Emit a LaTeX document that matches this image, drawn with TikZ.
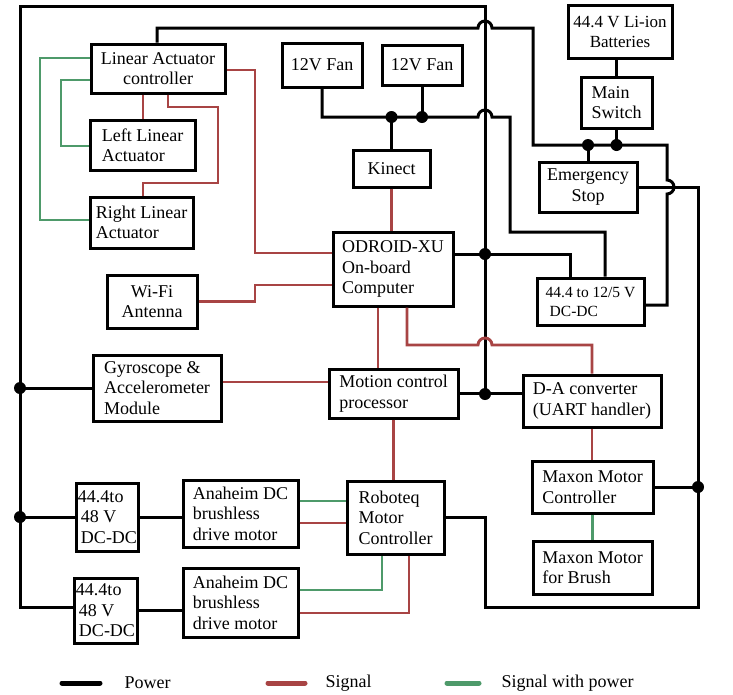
\documentclass[tikz,border=0pt]{standalone}
\usepackage{fontspec}
\setmainfont{Liberation Serif}
\usetikzlibrary{positioning}
\definecolor{sigred}{RGB}{168,68,68}
\definecolor{siggreen}{RGB}{78,154,106}
\newcommand\blkfont{\fontsize{18}{20.5}\selectfont}

\begin{document}
\begin{tikzpicture}[x=1pt,y=-1pt,
  blk/.style={draw, line width=3pt, fill=white, align=left, inner sep=3pt, font=\blkfont},
  pwr/.style={line width=3pt, black},
  sig/.style={line width=2.9pt, sigred},
  sgp/.style={line width=2.9pt, siggreen}]
\fill[white] (0,0) rectangle (733,694);
\useasboundingbox (0,0) rectangle (733,694);

% left column
\node[blk, minimum width=134, minimum height=49, align=center] (lac) at (158,68.5) {Linear Actuator\\controller};
\node[blk, minimum width=105, minimum height=50] (leftla) at (142.5,145) {Left Linear\\Actuator};
\node[blk, minimum width=103, minimum height=51] (rightla) at (141.5,222.5) {Right Linear\\Actuator};
\node[blk, minimum width=90, minimum height=53, align=center] (wifi) at (152,301.5) {Wi-Fi\\Antenna};
\node[blk, minimum width=128, minimum height=66] (gyro) at (157,388) {Gyroscope \&\\Accelerometer\\Module};
\node[blk, minimum width=61, minimum height=68, inner sep=1pt] (dcA) at (107.5,517) {44.4to\\\,48 V\\\,DC-DC};
\node[blk, minimum width=63, minimum height=65, inner sep=1pt] (dcB) at (105.5,610.5) {44.4to\\\,48 V\\\,DC-DC};
\node[blk, minimum width=115, minimum height=67] (anaA) at (240.5,513.5) {Anaheim DC\\brushless\\drive motor};
\node[blk, minimum width=115, minimum height=69] (anaB) at (240.5,602.5) {Anaheim DC\\brushless\\drive motor};

% middle column
\node[blk, minimum width=80, minimum height=44] (fanA) at (322,65) {12V Fan};
\node[blk, minimum width=80, minimum height=40] (fanB) at (422,65) {12V Fan};
\node[blk, minimum width=77, minimum height=37] (kinect) at (391.5,168.5) {Kinect};
\node[blk, minimum width=120, minimum height=74] (odroid) at (393,269) {ODROID-XU\\On-board\\Computer};
\node[blk, minimum width=129, minimum height=49] (motion) at (393.5,393.5) {Motion control\\processor};
\node[blk, minimum width=97, minimum height=73] (roboteq) at (395.5,517.5) {Roboteq\\Motor\\Controller};

% right column
\node[blk, minimum width=104, minimum height=53, align=center, font=\fontsize{17}{20}\selectfont] (batt) at (620,31.5) {44.4 V Li-ion\\Batteries};
\node[blk, minimum width=71, minimum height=51] (mswitch) at (616.5,102.5) {Main\\Switch};
\node[blk, minimum width=98, minimum height=50, align=center] (estop) at (588,187) {Emergency\\Stop};
\node[blk, minimum width=107, minimum height=47, font=\fontsize{15.5}{19}\selectfont] (dcdc) at (590.5,301.5) {44.4 to 12/5 V\\\hspace{4pt}DC-DC};
\node[blk, minimum width=138, minimum height=52] (dac) at (592,401) {D-A converter\\(UART handler)};
\node[blk, minimum width=121, minimum height=52] (maxonc) at (592.5,487) {Maxon Motor\\Controller};
\node[blk, minimum width=119, minimum height=53] (maxonb) at (592.5,567.5) {Maxon Motor\\for Brush};

% power
\draw[pwr] (485,394) -- (485,6) -- (20,6) -- (20,607) -- (dcB.west |- 0,607);
\draw[pwr] (gyro.west) -- (gyro.west -| 20,0);
\draw[pwr] (dcA.west) -- (dcA.west -| 20,0);
\draw[pwr] (dcA.east) -- (anaA.west |- dcA.east);
\draw[pwr] (dcB.east) -- (anaB.west |- dcB.east);
\draw[pwr] (motion.east) -- (dac.west |- motion.east);
\draw[pwr] (odroid.east |- 0,254) -- (570,254) -- (dcdc.north -| 570,0);
\draw[pwr] (lac.north -| 157,0) -- (157,28) -- (478,28) arc[start angle=180, end angle=0, radius=7pt]
  -- (533,28) -- (533,145) -- (667,145) -- (667,180) arc[start angle=90, end angle=-90, radius=7pt]
  -- (667,305) -- (dcdc.east |- 0,305);
\draw[pwr] (fanA.south) -- (fanA.south |- 0,117) -- (478,117) arc[start angle=180, end angle=0, radius=7pt]
  -- (510,117) -- (510,232) -- (605,232) -- (dcdc.north -| 605,0);
\draw[pwr] (fanB.south) -- (fanB.south |- 0,117);
\draw[pwr] (kinect.north) -- (kinect.north |- 0,117);
\draw[pwr] (estop.north) -- (estop.north |- 0,145);
\draw[pwr] (mswitch.south) -- (mswitch.south |- 0,145);
\draw[pwr] (mswitch.north) -- (mswitch.north |- batt.south);
\draw[pwr] (estop.east) -- (estop.east -| 698,0) -- (698,607) -- (485,607) -- (485,517) -- (roboteq.east |- 0,517);
\draw[pwr] (maxonc.east) -- (maxonc.east -| 698,0);

% signal
\draw[sig] (lac.east |- 0,70) -- (255,70) -- (255,253) -- (odroid.west |- 0,253);
\draw[sig] (wifi.east) -- (wifi.east -| 255,0) -- (255,285) -- (odroid.west |- 0,285);
\draw[sig] (lac.south -| 143,0) -- (leftla.north -| 143,0);
\draw[sig] (lac.south -| 168,0) -- (168,107) -- (218,107) -- (218,183) -- (143,183) -- (rightla.north -| 143,0);
\draw[sig] (kinect.south) -- (kinect.south |- odroid.north);
\draw[sig] (odroid.south -| 378,0) -- (motion.north -| 378,0);
\draw[sig] (odroid.south -| 407,0) -- (407,345) -- (478,345) arc[start angle=180, end angle=0, radius=7pt]
  -- (dac.north |- 0,345) -- (dac.north);
\draw[sig] (gyro.east |- 0,382) -- (motion.west |- 0,382);
\draw[sig] (motion.south) -- (motion.south |- roboteq.north);
\draw[sig] (dac.south) -- (dac.south |- maxonc.north);
\draw[sig] (anaA.east |- 0,523) -- (roboteq.west |- 0,523);
\draw[sig] (anaB.east |- 0,613) -- (409,613) -- (roboteq.south -| 409,0);

% signal with power
\draw[sgp] (lac.west |- 0,58) -- (40,58) -- (40,220) -- (rightla.west |- 0,220);
\draw[sgp] (lac.west |- 0,80) -- (61,80) -- (61,146) -- (leftla.west |- 0,146);
\draw[sgp] (anaA.east |- 0,501) -- (roboteq.west |- 0,501);
\draw[sgp] (anaB.east |- 0,590) -- (382,590) -- (roboteq.south -| 382,0);
\draw[sgp] (maxonc.south) -- (maxonc.south |- maxonb.north);

% junctions
\foreach \x/\y in {485/254, 485/394, 391.5/117, 422/117, 588/145, 616.5/145, 20/388, 20/517, 698/487}
  \fill (\x,\y) circle (6pt);

% legend
\node[anchor=west, font=\blkfont] (lgpwr) at (121,683) {Power};
\node[anchor=west, font=\blkfont] (lgsig) at (322,683) {Signal};
\node[anchor=west, font=\blkfont] (lgsgp) at (498,683) {Signal with power};
\draw[line width=5pt, line cap=round, black] ([xshift=-21pt]lgpwr.west) -- ++(-38,0);
\draw[line width=5pt, line cap=round, sigred] ([xshift=-17pt]lgsig.west) -- ++(-37,0);
\draw[line width=5pt, line cap=round, siggreen] ([xshift=-19pt]lgsgp.west) -- ++(-32,0);
\end{tikzpicture}
\end{document}
